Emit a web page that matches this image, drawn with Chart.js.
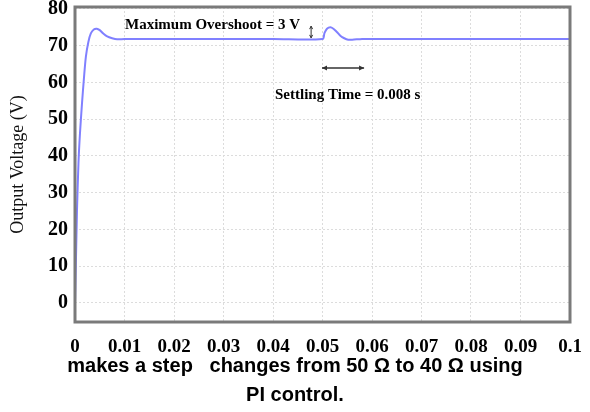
<!DOCTYPE html>
<html>
<head>
<meta charset="utf-8">
<script src="https://cdn.jsdelivr.net/npm/chart.js@4.4.0/dist/chart.umd.min.js"></script>
<style>
  html, body { margin: 0; padding: 0; background: #fff; }
  #wrap { width: 590px; height: 412px; }
</style>
</head>
<body>
<div id="wrap"><canvas id="voltChart" width="590" height="412"></canvas></div>
<script>
// Datos
const timeS = [0, 0.0002, 0.0004, 0.0007, 0.001, 0.0014, 0.0018, 0.0022, 0.0027, 0.0032, 0.0038, 0.0044,
    0.005, 0.0057, 0.0065, 0.0075, 0.0085, 0.01, 0.02, 0.03, 0.04, 0.05, 0.0504, 0.0509, 0.0516,
    0.0522, 0.0529, 0.0536, 0.0544, 0.0552, 0.056, 0.058, 0.06, 0.07, 0.08, 0.09, 0.1];
const voltageV = [0, 12, 25, 38, 46, 54, 61, 67, 71, 73.3, 74.4, 74.6,
    74.2, 73.3, 72.5, 72.0, 71.7, 71.8, 71.8, 71.8, 71.8, 71.8, 73.4, 74.6, 75.0,
    74.6, 73.7, 72.7, 72.0, 71.6, 71.6, 71.8, 71.8, 71.8, 71.8, 71.8, 71.8];
const xTicks = [0, 0.01, 0.02, 0.03, 0.04, 0.05, 0.06, 0.07, 0.08, 0.09, 0.1];
const xLabels = ['0', '0.01', '0.02', '0.03', '0.04', '0.05', '0.06', '0.07', '0.08', '0.09', '0.1'];
const yTicks = [0, 10, 20, 30, 40, 50, 60, 70, 80];

const serif = '"Liberation Serif", "Times New Roman", serif';

// Marco gris y anotaciones
const framePlugin = {
    id: 'frame',
    afterDatasetsDraw(chart) {
        const { ctx, chartArea: a, scales: { x, y } } = chart;
        ctx.save();
        ctx.strokeStyle = '#7a7a7a';
        ctx.lineWidth = 3;
        ctx.strokeRect(a.left, a.top, a.right - a.left, a.bottom - a.top);

        ctx.fillStyle = '#000';
        ctx.font = 'bold 15px ' + serif;
        ctx.textBaseline = 'middle';
        ctx.fillText('Maximum Overshoot = 3 V', x.getPixelForValue(0.0101), y.getPixelForValue(75.6));
        ctx.fillText('Settling Time = 0.008 s', x.getPixelForValue(0.0404), y.getPixelForValue(56.5));

        // flecha vertical pequeña
        ctx.strokeStyle = '#333';
        ctx.lineWidth = 1;
        const vx = x.getPixelForValue(0.0477);
        const v1 = y.getPixelForValue(75.3), v2 = y.getPixelForValue(72.1);
        ctx.beginPath();
        ctx.moveTo(vx, v1); ctx.lineTo(vx, v2);
        ctx.moveTo(vx - 1.5, v1 + 3); ctx.lineTo(vx, v1); ctx.lineTo(vx + 1.5, v1 + 3);
        ctx.moveTo(vx - 1.5, v2 - 3); ctx.lineTo(vx, v2); ctx.lineTo(vx + 1.5, v2 - 3);
        ctx.stroke();

        // flecha horizontal (tiempo de establecimiento)
        const hy = y.getPixelForValue(63.9);
        const h1 = x.getPixelForValue(0.0499), h2 = x.getPixelForValue(0.0584);
        ctx.lineWidth = 1.5;
        ctx.beginPath();
        ctx.moveTo(h1, hy); ctx.lineTo(h2, hy);
        ctx.stroke();
        ctx.fillStyle = '#333';
        ctx.beginPath();
        ctx.moveTo(h1, hy); ctx.lineTo(h1 + 5, hy - 2.5); ctx.lineTo(h1 + 5, hy + 2.5); ctx.closePath();
        ctx.moveTo(h2, hy); ctx.lineTo(h2 - 5, hy - 2.5); ctx.lineTo(h2 - 5, hy + 2.5); ctx.closePath();
        ctx.fill();
        ctx.restore();
    }
};

const ctx = document.getElementById('voltChart').getContext('2d');
new Chart(ctx, {
    type: 'line',
    data: {
        labels: timeS,
        datasets: [{
            data: timeS.map((t, i) => ({ x: t, y: voltageV[i] })),
            borderColor: '#8080ff',
            borderWidth: 2,
            pointRadius: 0,
            tension: 0.3,
            fill: false
        }]
    },
    options: {
        responsive: false,
        animation: false,
        layout: { padding: 0 },
        plugins: {
            legend: { display: false },
            tooltip: { enabled: false },
            title: {
                display: true,
                position: 'bottom',
                text: ['makes a step   changes from 50 \u03A9 to 40 \u03A9 using', 'PI control.'],
                color: '#000',
                font: { family: '"Liberation Sans", Arial, sans-serif', size: 20, weight: 'bold', lineHeight: 1.45 },
                padding: { top: 0, bottom: 2 }
            }
        },
        scales: {
            x: {
                type: 'linear',
                min: 0,
                max: 0.1,
                afterBuildTicks: s => { s.ticks = xTicks.map(v => ({ value: v })); },
                afterFit: s => { s.height = 30; s.paddingRight = 20; s.paddingLeft = 0; },
                ticks: {
                    color: '#000',
                    padding: 14,
                    maxRotation: 0,
                    font: { family: serif, size: 19, weight: 'bold' },
                    callback: (v, i) => xLabels[i]
                },
                grid: { color: '#dcdcdc', drawTicks: false },
                border: { display: false, dash: [2, 2] }
            },
            y: {
                min: -5.2,
                max: 80.5,
                afterBuildTicks: s => { s.ticks = yTicks.map(v => ({ value: v })); },
                afterFit: s => { s.width = 75; s.paddingTop = 7; s.paddingBottom = 0; },
                ticks: {
                    color: '#000',
                    padding: 7,
                    font: { family: serif, size: 20, weight: 'bold' }
                },
                grid: { color: '#dcdcdc', drawTicks: false },
                border: { display: false, dash: [2, 2] },
                title: {
                    display: true,
                    text: 'Output Voltage (V)',
                    color: '#111',
                    font: { family: serif, size: 18 },
                    padding: { top: 7, bottom: 0 }
                }
            }
        }
    },
    plugins: [framePlugin]
});
</script>
</body>
</html>
